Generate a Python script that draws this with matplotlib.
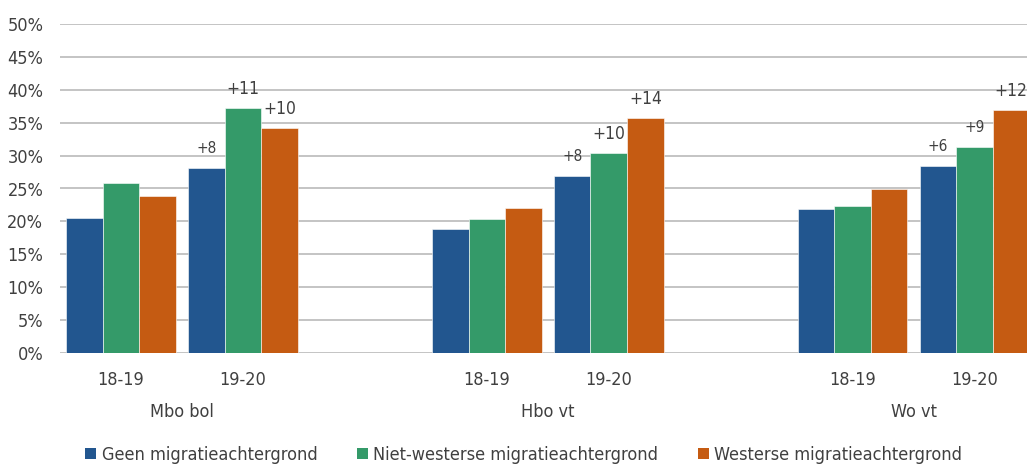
import numpy as np
import matplotlib
matplotlib.use("Agg")
import matplotlib.pyplot as plt
from matplotlib.patches import Patch

plt.rcParams['font.family'] = ['DejaVu Sans']
plt.rcParams['font.stretch'] = 'condensed'

groups = ["Mbo bol", "Hbo vt", "Wo vt"]
years = ["18-19", "19-20"]
series = ["Geen migratieachtergrond", "Niet-westerse migratieachtergrond", "Westerse migratieachtergrond"]
# per series: [Mbo 18-19, Mbo 19-20, Hbo 18-19, Hbo 19-20, Wo 18-19, Wo 19-20]
geen = [20.5, 28.1, 18.8, 26.9, 21.9, 28.4]
niet_westers = [25.8, 37.2, 20.3, 30.4, 22.3, 31.3]
westers = [23.9, 34.2, 22.1, 35.7, 24.9, 36.9]
# toename t.o.v. 18-19 (boven de 19-20 staven)
toename = [["+8", "+11", "+10"], ["+8", "+10", "+14"], ["+6", "+9", "+12"]]

colors = ["#22568f", "#349a69", "#c55b12"]
txt = "#404040"

fig = plt.figure(figsize=(10.27, 4.66), dpi=100)
ax = fig.add_axes([60/1027, 1-353/466, 1-60/1027, (353-24)/466])

# posities: 0,1 | 3,4 | 6,7
x = np.array([g*3 + j for g in range(len(groups)) for j in range(len(years))], dtype=float)
w = 0.3
data = [geen, niet_westers, westers]
for i, vals in enumerate(data):
    ax.bar(x + (i-1)*w, np.array(vals)/100, width=w, color=colors[i],
           edgecolor="white", linewidth=0.4, zorder=3)

for g in range(len(groups)):
    xi = g*3 + 1
    for i in range(3):
        lab = toename[g][i]
        ax.annotate(lab, (xi + (i-1)*w, data[i][g*2+1]/100), xytext=(0, 14),
                    textcoords="offset points", ha="center", va="center",
                    fontsize=11 if len(lab) == 2 else 12.5, color=txt)

ax.set_ylim(0, 0.5)
ax.set_xlim(-0.5, 7.43)
ax.set_yticks(np.arange(0, 0.51, 0.05))
ax.set_yticklabels([f"{int(round(v*100))}%" for v in np.arange(0, 0.51, 0.05)])
ax.yaxis.grid(True, color="#c4c4c4", linewidth=1.4, zorder=0)
ax.set_axisbelow(True)
for s in ax.spines.values():
    s.set_visible(False)
ax.tick_params(axis="y", length=0, labelsize=13, labelcolor=txt, pad=12)
ax.set_xticks(x)
ax.set_xticklabels(years*len(groups))
ax.tick_params(axis="x", length=0, labelsize=13, labelcolor=txt, pad=13)

for g, name in enumerate(groups):
    ax.text(g*3 + 0.5, -0.09, name, transform=ax.transData, ha="center", va="center",
            fontsize=13, color=txt, clip_on=False)

handles = [Patch(facecolor=c) for c in colors]
fig.legend(handles, series, loc="center", bbox_to_anchor=(0.51, 1-455/466), ncol=3,
           frameon=False, fontsize=13, handlelength=0.6, handleheight=0.6,
           handletextpad=0.3, columnspacing=2.2, labelcolor=txt)

fig.savefig("out.png", dpi=100)
